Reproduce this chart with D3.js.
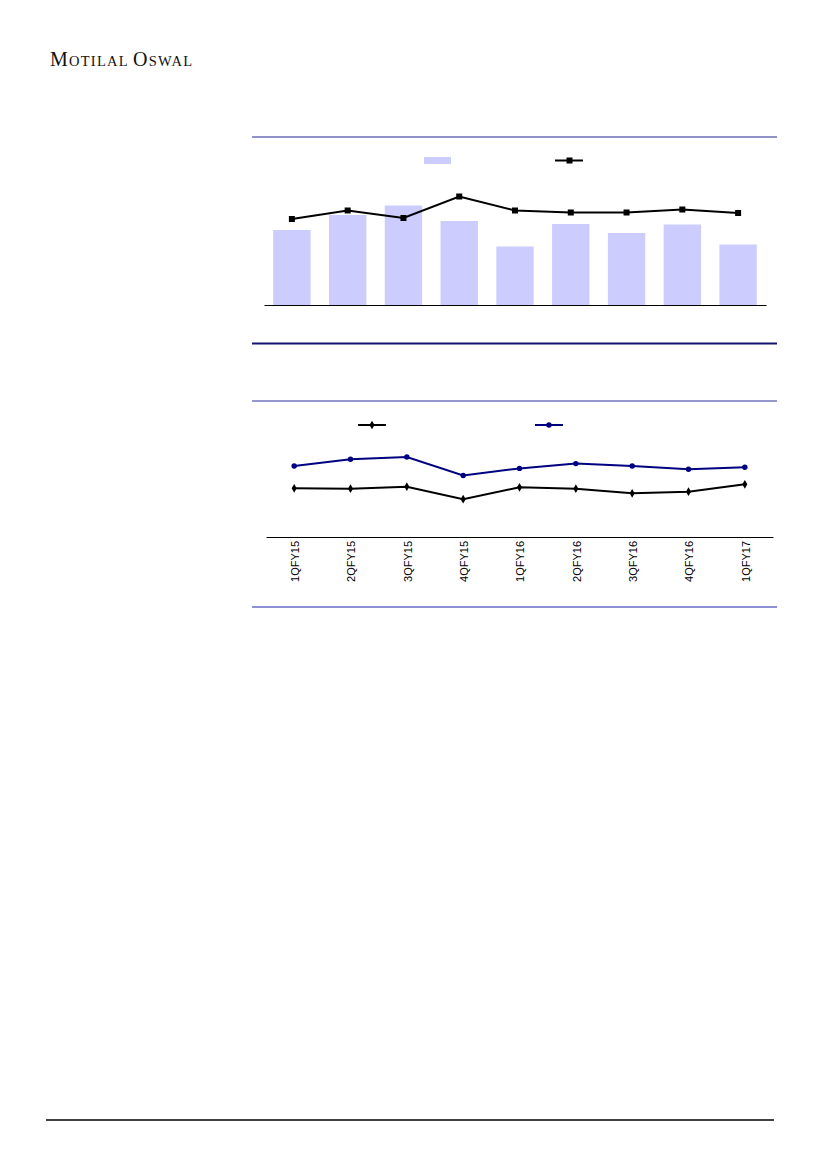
<!DOCTYPE html>
<html><head><meta charset="utf-8">
<script src="https://cdn.jsdelivr.net/npm/d3@7"></script>
<style>html,body{margin:0;padding:0;background:#fff}svg{display:block}</style>
</head><body>
<script>
// ---- data ----
const categories = ["1QFY15","2QFY15","3QFY15","4QFY15","1QFY16","2QFY16","3QFY16","4QFY16","1QFY17"];
// chart 1 (relative units)
const barValues  = [75, 90, 99.5, 84, 58.5, 81, 72, 80.5, 60.5];
const lineValues = [86, 94.5, 87, 108.5, 94.5, 92.5, 92.5, 95.5, 92];
// chart 2
const blackSeries = [48.7, 48.3, 50.3, 37.8, 49.7, 48.3, 43.7, 45.3, 52.7];
const navySeries  = [71, 77.7, 80, 61.5, 68.6, 73.4, 71, 67.7, 69.7];

const W = 827, H = 1169;
const svg = d3.select("body").append("svg").attr("width", W).attr("height", H);

// header
const hdr = svg.append("text").attr("x", 50).attr("y", 66)
  .attr("font-family", "Liberation Serif, serif").attr("fill", "#111")
  .attr("textLength", 142).attr("lengthAdjust", "spacing");
[["M",20],["OTILAL ",14.5],["O",20],["SWAL",14.5]].forEach(([t,s]) =>
  hdr.append("tspan").attr("font-size", s).text(t));

// rules
function rule(y, color, w){
  svg.append("line").attr("x1", 252).attr("x2", 777).attr("y1", y).attr("y2", y)
    .attr("stroke", color).attr("stroke-width", w);
}
rule(137, "#6e6eb8", 1.5);
rule(343.5, "#14146e", 2);
rule(401, "#7474c0", 1.5);
rule(607, "#6a6ac8", 1.5);
svg.append("line").attr("x1", 46).attr("x2", 774).attr("y1", 1120).attr("y2", 1120)
  .attr("stroke", "#000").attr("stroke-width", 1.3);

// ---- chart 1 ----
const x1 = d3.scaleBand().domain(categories).range([264, 766]).paddingInner(0.33).paddingOuter(0.165);
const y1 = d3.scaleLinear().domain([0, 120]).range([305, 185]);
const g1 = svg.append("g");
g1.selectAll("rect.bar").data(barValues).join("rect").attr("class","bar")
  .attr("x", (d,i) => x1(categories[i])).attr("width", x1.bandwidth())
  .attr("y", d => y1(d)).attr("height", d => y1(0) - y1(d)).attr("fill", "#ccccff");
g1.append("g").attr("transform", "translate(0,305)")
  .call(d3.axisBottom(x1).tickSize(0).tickFormat(""))
  .call(g => g.select(".domain").attr("stroke", "#000").attr("stroke-width", 1.2));
const cx1 = i => x1(categories[i]) + x1.bandwidth()/2;
g1.append("path").datum(lineValues)
  .attr("d", d3.line().x((d,i) => cx1(i)).y(d => y1(d)))
  .attr("fill", "none").attr("stroke", "#000").attr("stroke-width", 2);
g1.selectAll("rect.mk").data(lineValues).join("rect").attr("class","mk")
  .attr("x", (d,i) => cx1(i) - 3).attr("y", d => y1(d) - 3)
  .attr("width", 6).attr("height", 6).attr("fill", "#000");
// legend 1
g1.append("rect").attr("x", 424).attr("y", 157).attr("width", 27).attr("height", 7).attr("fill", "#ccccff");
g1.append("line").attr("x1", 555).attr("x2", 583).attr("y1", 160.5).attr("y2", 160.5).attr("stroke", "#000").attr("stroke-width", 2);
g1.append("rect").attr("x", 566.5).attr("y", 157.5).attr("width", 6).attr("height", 6).attr("fill", "#000");

// ---- chart 2 ----
const x2 = d3.scaleBand().domain(categories).range([266, 773]);
const y2 = d3.scaleLinear().domain([0, 100]).range([537, 437]);
const g2 = svg.append("g");
g2.append("g").attr("transform", "translate(0,537)")
  .call(d3.axisBottom(x2).tickSize(0).tickPadding(0))
  .call(g => g.select(".domain").attr("stroke", "#000").attr("stroke-width", 1.2))
  .call(g => g.selectAll("text")
    .attr("font-family", "Liberation Sans, Arial, sans-serif").attr("font-size", 11).attr("fill", "#000")
    .attr("text-anchor", "end").attr("transform", "rotate(-90)")
    .attr("x", -4).attr("y", 1).attr("dy", "0.35em"));
const cx2 = i => x2(categories[i]) + x2.bandwidth()/2;
const diamond = d3.symbol().type(d3.symbolDiamond).size(22);
g2.append("path").datum(blackSeries)
  .attr("d", d3.line().x((d,i) => cx2(i)).y(d => y2(d)))
  .attr("fill", "none").attr("stroke", "#000").attr("stroke-width", 2);
g2.selectAll("path.dm").data(blackSeries).join("path").attr("class","dm")
  .attr("d", diamond).attr("transform", (d,i) => `translate(${cx2(i)},${y2(d)})`).attr("fill", "#000");
g2.append("path").datum(navySeries)
  .attr("d", d3.line().x((d,i) => cx2(i)).y(d => y2(d)))
  .attr("fill", "none").attr("stroke", "#000080").attr("stroke-width", 2);
g2.selectAll("circle.nv").data(navySeries).join("circle").attr("class","nv")
  .attr("cx", (d,i) => cx2(i)).attr("cy", d => y2(d)).attr("r", 2.7).attr("fill", "#000080");
// legend 2
g2.append("line").attr("x1", 358).attr("x2", 386).attr("y1", 425).attr("y2", 425).attr("stroke", "#000").attr("stroke-width", 2);
g2.append("path").attr("d", diamond).attr("transform", "translate(372,425)").attr("fill", "#000");
g2.append("line").attr("x1", 535).attr("x2", 563).attr("y1", 425).attr("y2", 425).attr("stroke", "#000080").attr("stroke-width", 2);
g2.append("circle").attr("cx", 549).attr("cy", 425).attr("r", 2.7).attr("fill", "#000080");
</script>
</body></html>
